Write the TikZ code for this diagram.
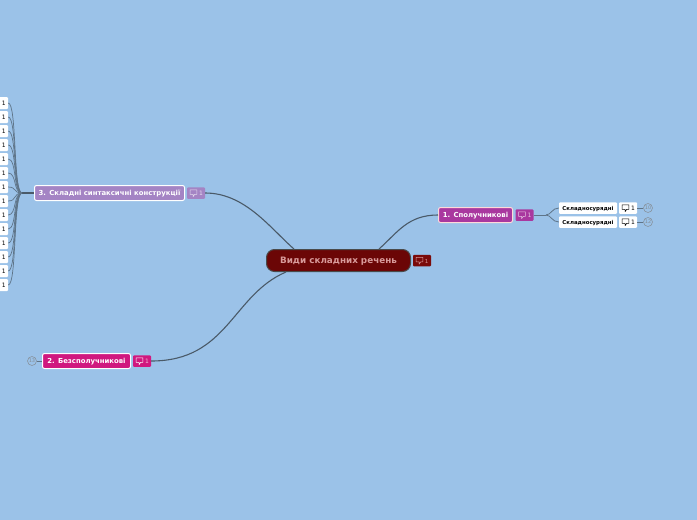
\documentclass[tikz,border=0pt]{standalone}
\usepackage{fontspec}
\setmainfont{DejaVu Sans}
\definecolor{bgblue}{HTML}{9BC2E8}
\definecolor{rootred}{HTML}{6B0606}
\definecolor{rootedge}{HTML}{4A4A4A}
\definecolor{rootinner}{HTML}{7A0A0A}
\definecolor{roottext}{HTML}{D89A9A}
\definecolor{purple1}{HTML}{A9389F}
\definecolor{pink2}{HTML}{D0187F}
\definecolor{lilac3}{HTML}{A484C4}
\definecolor{linkgrey}{HTML}{4A5A68}
\tikzset{
  x=1pt,y=-1pt,
  rootbox/.style={draw=rootedge,line width=1pt,fill=rootred,rounded corners=8pt,minimum width=144pt,minimum height=22pt,inner sep=0pt,text=roottext,text height=6.6pt,text depth=0pt,font=\bfseries\fontsize{8.8}{10}\selectfont},
  mainbox/.style={draw=#1,line width=1pt,rounded corners=2pt,minimum height=15pt,inner sep=0pt,text=white,text height=5.4pt,text depth=0pt,font=\bfseries\fontsize{6.9}{8}\selectfont},
  subbox/.style={fill=white,rounded corners=1pt,minimum width=58pt,minimum height=11.5pt,inner sep=0pt,text=black,text height=4.8pt,text depth=0pt,font=\bfseries\fontsize{5.4}{7}\selectfont},
  cmtbox/.style={rounded corners=1pt,minimum width=#1,minimum height=11.5pt,inner sep=0pt},
  cmtnum/.style={font=\fontsize{6}{7}\selectfont},
  numcircle/.style={circle,draw=gray!70!bgblue,line width=.6pt,minimum size=9pt,inner sep=0pt,text=gray!80!bgblue,font=\fontsize{5}{6}\selectfont},
  leafbox/.style={fill=white,rounded corners=1pt,minimum width=20pt,minimum height=12pt,inner sep=0pt},
  link/.style={draw=linkgrey,line width=1.1pt},
  thinlink/.style={draw=linkgrey!75!bgblue,line width=.8pt},
}
\newcommand{\bubbleicon}[2]{% centre, colour
  \draw[#2,line width=.55pt,line join=round] ([shift={(-3.4,-3.2)}]#1) -- ++(6.8,0) -- ++(0,4.6) -- ++(-2.2,0) -- ++(-1.6,2.2) -- ++(0,-2.2) -- ++(-3,0) -- cycle;
}
\begin{document}
\begin{tikzpicture}
\useasboundingbox (0,0) rectangle (697,520);
\clip (0,0) rectangle (697,520);
\fill[bgblue] (0,0) rectangle (697,520);

% nodes
\node[rootbox] (root) at (338.5,260.5) {Види складних речень};
\node[cmtbox=18pt,fill=rootinner] (rootc) at (422,260.5) {};
\coordinate (rootci) at (419.5,260.5);
\node[cmtnum,text=roottext,font=\fontsize{5.5}{6}\selectfont] (rootn) at (426.5,261) {1};

\node[mainbox=pink!60!white,fill=purple1,minimum width=74pt] (a) at (475.5,215) {1. Сполучникові};
\node[cmtbox=18pt,fill=purple1] (ac) at (524.5,215) {};
\coordinate (aci) at (522,215);
\node[cmtnum,text=white!70!purple1] (an) at (529.5,215.5) {1};

\node[subbox] (a1) at (588,208) {Складносурядні};
\node[subbox] (a2) at (588,222) {Складносурядні};
\node[cmtbox=18pt,fill=white] (a1c) at (628,208) {};
\node[cmtbox=18pt,fill=white] (a2c) at (628,222) {};
\coordinate (a1ci) at (625.5,208);
\coordinate (a2ci) at (625.5,222);
\node[cmtnum,text=black] (a1n) at (633,208.5) {1};
\node[cmtnum,text=black] (a2n) at (633,222.5) {1};
\node[numcircle] (a1k) at (648,208) {10};
\node[numcircle] (a2k) at (648,222) {12};

\node[mainbox=white,fill=pink2,minimum width=88pt] (b) at (86.5,361) {2. Безсполучникові};
\node[cmtbox=18pt,fill=pink2] (bc) at (142,361) {};
\coordinate (bci) at (139.5,361);
\node[cmtnum,text=white!70!pink2] (bn) at (147,361.5) {1};
\node[numcircle] (bk) at (32,361) {13};

\node[mainbox=white,fill=lilac3,minimum width=150pt] (c) at (109.5,193) {3. Складні синтаксичні конструкції};
\node[cmtbox=18pt,fill=lilac3] (cc) at (196,193) {};
\coordinate (cci) at (193.5,193);
\node[cmtnum,text=white!70!lilac3] (cn) at (201,193.5) {1};

% connectors
\coordinate (hub) at (22,193);
\draw[link] (root.north west) ++(28,0) coordinate (r1) .. controls (270,228) and (245,193) .. (cc.east);
\draw[link] (root.south west) ++(20,0) coordinate (r2) .. controls (232,295) and (228,361) .. (bc.east);
\draw[link] (root.north east) ++(-32,0) coordinate (r3) .. controls (398,232) and (408,215) .. (a.west);
\draw[thinlink] (ac.east) -- (546,215) coordinate (h);
\draw[thinlink] (h) .. controls (551,215) and (552,208) .. (a1.west);
\draw[thinlink] (h) .. controls (551,215) and (552,222) .. (a2.west);
\draw[thinlink] (a1c.east) -- (a1k.west);
\draw[thinlink] (a2c.east) -- (a2k.west);
\draw[thinlink] (bk.east) -- (b.west);
\draw[link,line width=1.4pt] (hub) -- (c.west);

% leaves
\foreach \i in {0,...,13}{
  \pgfmathsetmacro{\yy}{103+14*\i}
  \node[leafbox] (l\i) at (-2,\yy) {};
  \node[cmtnum,text=black] (t\i) at (3.7,\yy+.5) {1};
  \draw[thinlink,line width=.7pt] (l\i.east) .. controls (17,\yy) and (13,193) .. (hub);
}

% icons
\bubbleicon{rootci}{roottext}
\bubbleicon{aci}{white!70!purple1}
\bubbleicon{bci}{white}
\bubbleicon{cci}{white!70!lilac3}
\bubbleicon{a1ci}{black}
\bubbleicon{a2ci}{black}
\end{tikzpicture}
\end{document}
